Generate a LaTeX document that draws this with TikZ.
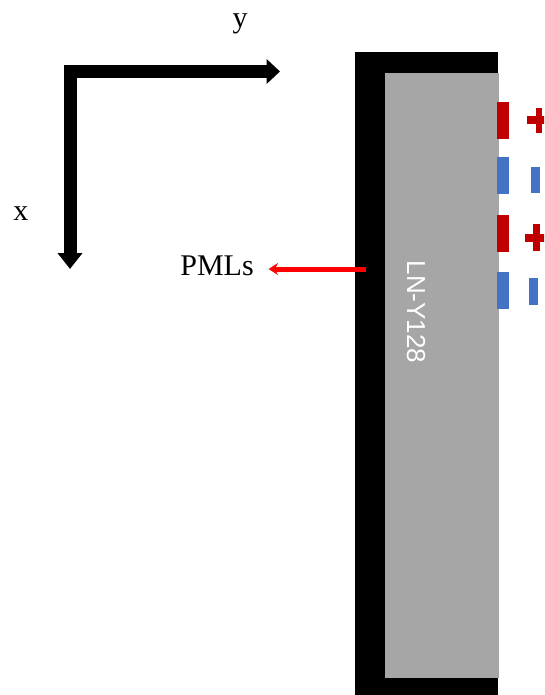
\documentclass[tikz,border=0pt]{standalone}
\usepackage{fontspec}
\setmainfont{Liberation Serif}
\newfontfamily\crystalfont{Liberation Sans}
\usetikzlibrary{arrows.meta}
\definecolor{posred}{HTML}{C00000}
\definecolor{negblue}{HTML}{4472C4}
\definecolor{crystalgray}{HTML}{A6A6A6}

\begin{document}
\begin{tikzpicture}[x=0.75pt, y=-0.75pt,
    axis/.style={line width=9.75pt, line join=miter,
                 {Triangle[length=12pt,width=18pt]}-{Triangle[length=10pt,width=18pt]}},
    lbl/.style={inner sep=0pt, font=\fontsize{22.5}{27}\selectfont},
    pmlarr/.style={line width=3.75pt, red, -{Stealth[length=7pt,width=9pt]}, shorten >=11pt},
    poselec/.style={fill=posred},
    negelec/.style={fill=negblue}
  ]
  \clip (0,0) rectangle (544,695);

  % axes
  \coordinate (origin) at (70,71.5);
  \coordinate (xtip) at (70,269);
  \coordinate (ytip) at (280,71.5);
  \draw[axis] (xtip) -- (origin) -- (ytip);
  \node[lbl] (ylabel) at (240,24) {y};
  \node[lbl] (xlabel) at (21,214) {x};

  % PML frame and crystal
  \fill[black] (355,52) rectangle (498,695);
  \fill[crystalgray] (385,73) rectangle (498.5,678);
  \node[rotate=-90, text=white, inner sep=0pt,
        font=\crystalfont\fontsize{19.5}{22}\selectfont] (crystal) at (416,312) {LN-Y128};

  % electrodes
  \foreach \y/\s in {102/poselec, 157/negelec, 215/poselec, 272/negelec}
    \fill[\s] (497,\y) rectangle +(12,37);

  % charges
  \fill[posred] (527,116.5) rectangle (552,124.5);
  \fill[posred] (535.5,108) rectangle (542,133);
  \fill[posred] (525,233.5) rectangle (552,242);
  \fill[posred] (533,224) rectangle (540,251);
  \fill[negblue] (531,167) rectangle (540,193);
  \fill[negblue] (529,278) rectangle (538,305);

  % PML label
  \node[lbl] (pml) at (217,266) {PMLs};
  \coordinate (pmlsrc) at (366,269);
  \draw[pmlarr] (pmlsrc) -- (pml.east |- pmlsrc);
\end{tikzpicture}
\end{document}
